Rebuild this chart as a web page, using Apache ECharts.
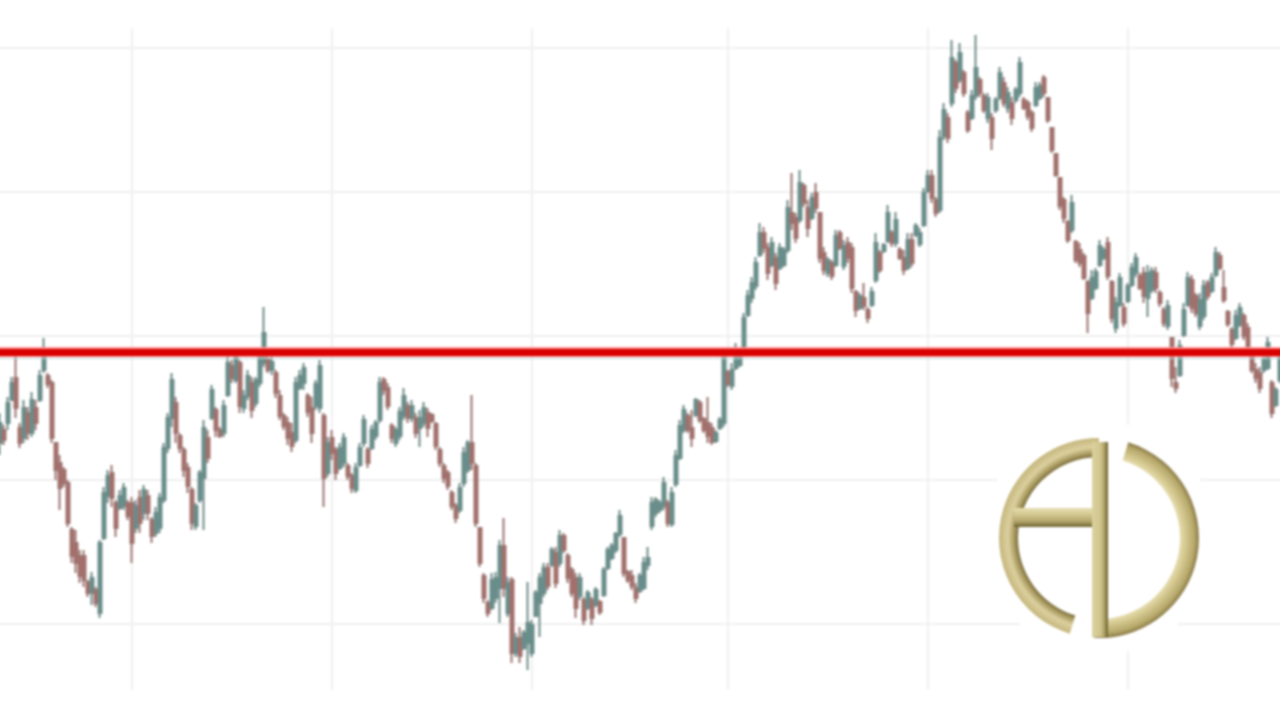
<!DOCTYPE html>
<html>
<head>
<meta charset="utf-8">
<style>
html,body{margin:0;padding:0;background:#fff;overflow:hidden;width:1280px;height:720px}
#chart{position:absolute;left:-10px;top:-10px;width:1300px;height:740px;filter:blur(0.8px)}
</style>
<script src="https://cdn.jsdelivr.net/npm/echarts@6/dist/echarts.min.js"></script>
</head>
<body>
<div id="chart"></div>
<script>
const opens = [
325,338,345,368,390,340,330,355,335,360,
368,398,392,385,325,305,298,285,238,225,
212,212,186,175,178,155,230,272,295,265,
260,262,265,265,240,270,255,272,248,235,
240,268,320,350,365,332,318,300,278,242,
268,290,330,350,358,338,335,373,402,388,
405,360,372,385,365,385,405,408,398,395,
372,352,345,335,328,380,385,372,360,362,
360,352,295,330,318,300,305,302,292,278,
303,325,318,320,332,348,388,380,342,325,
332,352,362,350,350,340,345,355,353,344,
318,302,295,275,262,258,285,298,325,302,
240,192,165,160,170,180,222,155,188,115,
130,120,125,115,152,165,175,200,203,215,
205,232,212,198,190,172,168,160,168,163,
166,173,200,210,218,234,230,196,192,180,
177,180,203,242,255,258,262,265,244,284,
310,338,352,340,353,365,349,345,340,327,
340,345,396,382,400,403,420,453,470,482,
513,535,520,503,510,500,503,518,555,550,
548,582,560,550,575,555,515,495,505,503,
535,502,525,520,476,460,470,458,463,488,
515,517,527,535,525,518,510,500,528,533,
524,543,577,592,568,558,632,650,665,705,
688,695,655,650,672,688,672,650,650,658,
670,685,660,665,668,675,668,665,655,663,
670,690,670,640,614,590,568,546,538,526,
518,512,486,470,480,503,510,525,486,440,
463,460,467,483,495,492,495,470,478,495,
475,458,442,430,385,393,433,463,488,472,
442,452,485,477,493,512,480,456,438,430,
443,452,440,412,398,395,398,400,385,363,388];
const closes = [
345,328,365,385,360,325,360,335,368,345,
392,418,384,330,298,280,285,245,212,205,
192,188,175,190,165,225,275,292,270,240,
272,280,252,225,262,245,278,255,232,255,
270,320,350,388,335,320,298,282,245,262,
295,340,310,378,338,332,362,405,390,412,
362,372,392,358,388,412,435,398,406,375,
352,342,330,322,385,392,400,356,335,384,
402,290,325,315,295,320,330,292,280,300,
320,348,305,338,345,385,378,362,330,338,
356,372,350,362,335,350,360,340,347,322,
305,290,282,262,250,280,315,325,305,245,
205,170,155,188,190,222,180,185,115,130,
112,135,145,143,175,190,200,182,218,185,
232,218,190,175,160,190,148,175,150,178,
156,198,218,222,234,252,195,188,182,170,
192,205,210,265,268,265,285,245,275,312,
342,358,338,330,368,348,338,332,326,335,
348,410,384,398,420,418,450,472,485,505,
535,520,495,525,485,520,518,560,545,530,
585,565,540,570,560,510,498,508,492,532,
520,522,510,480,458,472,462,450,476,525,
498,523,555,525,548,510,498,528,505,542,
535,575,592,570,555,630,658,630,710,680,
715,675,638,672,700,675,658,670,630,668,
695,665,675,650,678,705,660,652,640,680,
682,675,648,618,593,562,550,528,565,508,
505,490,455,490,496,522,518,492,450,465,
490,445,482,500,510,480,472,495,497,480,
465,445,462,390,380,422,458,490,460,455,
468,482,472,490,515,500,468,444,424,452,
460,432,420,398,390,380,408,425,355,378,412];
const lows = [
313,323,338,368,350,320,325,328,331,338,
366,395,380,325,288,258,281,241,205,195,
185,181,171,163,161,150,228,265,261,231,
258,258,248,205,235,235,248,248,225,231,
235,265,315,341,325,315,291,275,238,238,
265,238,305,348,331,330,331,371,385,385,
355,355,368,350,361,381,401,395,393,370,
348,338,323,316,325,378,378,351,325,358,
355,261,291,308,288,298,301,288,275,275,
301,321,300,318,328,345,373,358,325,321,
328,348,345,346,330,321,341,331,345,318,
301,285,278,258,245,255,281,295,298,241,
201,165,151,158,165,145,171,151,105,111,
105,118,98,111,151,131,171,178,201,180,
201,215,185,171,150,168,143,158,143,161,
153,171,198,208,215,231,191,185,178,165,
175,178,198,238,251,255,258,241,241,281,
308,335,335,321,351,345,335,325,323,325,
338,341,381,378,398,401,418,451,465,478,
511,515,488,501,478,498,501,515,538,525,
545,561,531,548,555,505,493,491,488,501,
518,498,505,475,451,458,458,445,461,485,
495,515,525,521,521,508,493,498,501,531,
521,541,575,565,551,555,628,625,661,675,
685,671,635,648,668,671,655,645,618,655,
668,661,655,643,665,671,658,648,636,661,
668,671,645,615,591,558,545,525,535,505,
501,488,435,468,478,501,508,488,445,435,
461,441,465,481,491,478,465,451,475,475,
461,441,438,381,375,391,431,461,455,451,
438,448,468,475,491,498,465,441,421,428,
441,428,415,395,385,375,395,398,350,361,385];
const highs = [
355,343,371,391,413,345,368,361,376,368,
398,430,395,388,325,313,301,288,241,238,
218,218,188,196,181,228,281,298,303,268,
278,285,268,271,268,278,283,278,251,261,
275,325,355,395,371,335,321,305,281,265,
298,348,338,383,361,341,368,411,408,418,
408,378,398,391,391,418,461,411,411,398,
378,355,351,345,391,398,405,375,371,388,
408,355,331,338,321,325,335,305,295,305,
325,353,321,343,348,391,391,385,345,341,
361,380,366,368,355,358,366,360,355,346,
321,305,298,278,265,285,321,328,373,305,
241,195,168,195,196,228,250,191,191,135,
141,138,186,148,178,195,205,205,221,221,
238,235,215,201,195,195,171,178,171,181,
168,201,221,225,236,258,231,198,198,185,
195,211,221,271,271,268,291,268,281,318,
348,363,355,358,370,368,351,371,345,338,
351,415,398,405,425,421,455,478,491,511,
545,541,525,531,515,525,521,568,595,555,
598,585,568,575,585,555,521,511,508,538,
538,528,531,525,478,475,485,461,481,535,
518,525,563,538,556,521,518,535,535,545,
540,580,598,598,571,638,665,655,728,708,
725,698,658,678,733,691,675,675,655,671,
701,691,681,671,681,711,671,668,658,686,
686,693,671,641,615,591,571,548,573,528,
525,515,488,498,500,528,521,531,488,471,
495,465,485,505,515,495,501,503,501,501,
478,461,468,431,401,428,465,496,493,475,
475,488,488,495,521,516,498,458,441,458,
465,455,445,415,405,401,411,431,388,381,418];
const categories = opens.map((_, i) => i);
const verticalGridAt = [33, 83, 133, 182, 232, 282];
const verticalGridFrom = 78;
const verticalGridTo = 740;
const supportLevel = 416;
const shadowLevel = 410;

const deg = d => d * Math.PI / 180;
const candles = opens.map((o, i) => [o, closes[i], lows[i], highs[i]]);
const ringFill = stops => ({type:'radial', x:1099, y:538, r:100, global:true,
  colorStops: stops.map(s => ({offset:s[0], color:s[1]}))});
const barFill = (x, y, x2, y2, stops) => ({type:'linear', x, y, x2, y2,
  colorStops: stops.map(s => ({offset:s[0], color:s[1]}))});

const chart = echarts.init(document.getElementById('chart'), null, {renderer:'canvas'});
chart.setOption({
  animation:false,
  backgroundColor:'#ffffff',
  grid:{left:8, width:1284, top:-86, height:864, outerBoundsMode:'none', containLabel:false},
  xAxis:{type:'category', data:categories, boundaryGap:true,
    axisLine:{show:false}, axisTick:{show:false}, axisLabel:{show:false}, splitLine:{show:false}},
  yAxis:{type:'value', min:0, max:864, interval:144,
    axisLine:{show:false}, axisTick:{show:false}, axisLabel:{show:false},
    splitLine:{show:true, lineStyle:{color:'#efefef', width:2}}},
  graphic:{elements:[
    {type:'group', x:10, y:10, silent:true, z:20, children:[
      {type:'circle', z:20, shape:{cx:1099, cy:538, r:117}, style:{fill:'#ffffff'}},
      {type:'sector', z:21,
        shape:{cx:1099, cy:538, r:100, r0:81, startAngle:deg(107), endAngle:deg(270), clockwise:true},
        style:{fill:ringFill([[0,'#7d6f3e'],[0.81,'#7d6f3e'],[0.85,'#a99b60'],[0.91,'#dcd09f'],[1,'#c4b67c']])}},
      {type:'sector', z:21,
        shape:{cx:1099, cy:538, r:100, r0:81, startAngle:deg(-73), endAngle:deg(93), clockwise:true},
        style:{fill:ringFill([[0,'#e6ddaf'],[0.81,'#e6ddaf'],[0.87,'#d3c78e'],[0.95,'#b8a96c'],[1,'#8a7b47']])}},
      {type:'rect', z:22, shape:{x:1014, y:508, width:84, height:19},
        style:{fill:barFill(0,0,0,1,[[0,'#e6deb2'],[0.35,'#d3c891'],[0.7,'#b3a66b'],[1,'#6c5f30']])}},
      {type:'rect', z:23, shape:{x:1092, y:442, width:16, height:195},
        style:{fill:barFill(0,0,1,0,[[0,'#dcd29f'],[0.55,'#cfc48c'],[0.8,'#a79a5f'],[1,'#64582b']])}}
    ]}
  ]},
  series:[
    {type:'line', name:'grid', data:[], z:1, silent:true,
      markLine:{silent:true, symbol:'none', z:1, animation:false, label:{show:false},
        lineStyle:{color:'#efefef', width:2, type:'solid'},
        data: verticalGridAt.map(c => [{coord:[c, verticalGridFrom]},{coord:[c, verticalGridTo]}])}},
    {type:'candlestick', name:'price', data:candles, z:3, barWidth:3, silent:true,
      itemStyle:{color:'#55938c', color0:'#b8655f', borderColor:'#6f8c89', borderColor0:'#9c7471', borderWidth:2},
      markLine:{silent:true, symbol:'none', animation:false, z:6, label:{show:false},
        data:[
          {yAxis:shadowLevel, lineStyle:{color:'#b9dada', width:1, type:'solid'}},
          {yAxis:supportLevel, lineStyle:{color:'#ff8f8f', width:10, type:'solid'}},
          {yAxis:supportLevel, lineStyle:{color:'#d80000', width:7, type:'solid'}}
        ]}}
  ]
});
</script>
</body>
</html>
